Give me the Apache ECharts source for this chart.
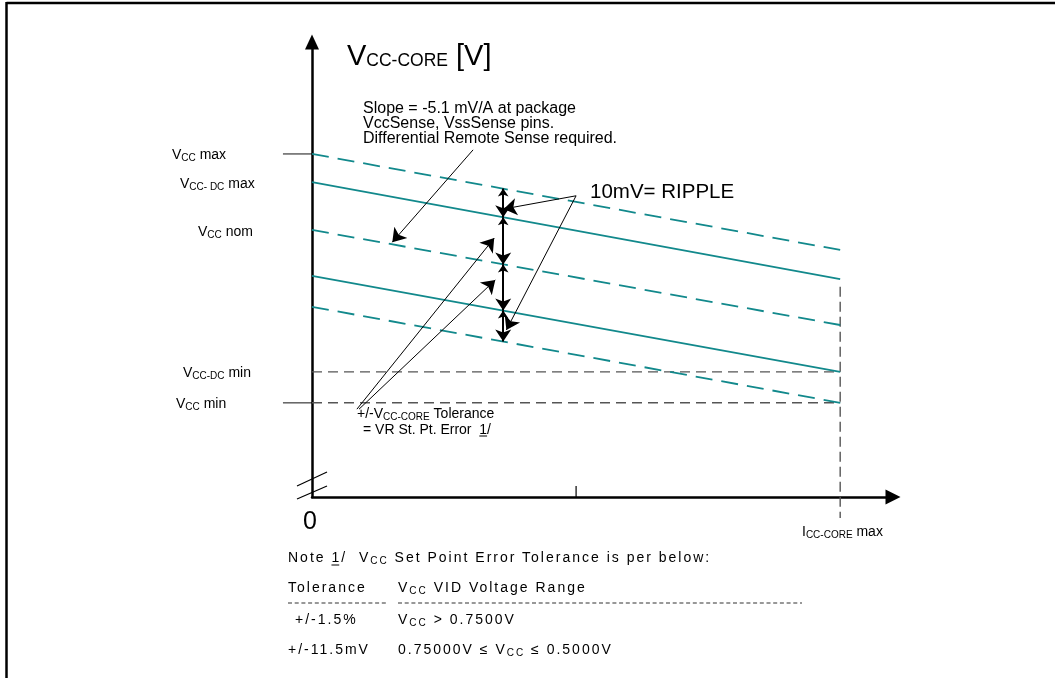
<!DOCTYPE html>
<html><head><meta charset="utf-8">
<script src="https://cdn.jsdelivr.net/npm/echarts@6/dist/echarts.min.js"></script>
<style>
html,body{margin:0;padding:0;background:#fff}
#main,#note{position:absolute;left:0;top:0;width:1055px;height:678px}
#note{letter-spacing:2px;pointer-events:none}
</style>
</head><body><div id="main"></div><div id="note"></div>
<script>
// ---------- data (relative units; x: 0 .. Icc-core max = 100) ----------
const loadX = [0, 100];
const vccMaxLine   = [75.4, 54.3];   // dashed
const vccDcMaxLine = [69.2, 47.9];   // solid
const vccNomLine   = [58.7, 37.8];   // dashed
const vccDcMinLine = [48.6, 27.5];   // solid
const vccMinLine   = [41.8, 20.7];   // dashed
const vccDcMinLevel = 27.5;
const vccMinLevel = 20.7;
const iccMaxX = 100;
const iccMaxSpan = [46.2, -4.6];
const midTickX = 50;
const rippleX = 36.2;
const rippleLevels = [67.8, 61.5, 51.1, 41.0, 34.2];
const axisTickLevels = [75.4, 20.7];
const tickStubX = [-5.5, 0];
const midTickSpan = [0, 2.4];
const breakMarks = [[[-2.84, 2.42], [2.84, 5.49]], [[-2.84, -0.44], [2.84, 2.42]]];
const pointerArrows = [
  [[30.5, 76.3], [15.2, 56.0]],   // slope note -> Vcc nom
  [[50.0, 66.2], [36.3, 63.3]],   // ripple -> top
  [[50.0, 66.2], [36.8, 36.7]],   // ripple -> bottom
  [[8.5, 19.3], [34.5, 56.9]],    // tolerance -> upper
  [[8.9, 19.3], [34.7, 47.7]]     // tolerance -> lower
];
const yLabels = [
  { v: 'V', s: 'CC', t: ' max' },
  { v: 'V', s: 'CC- DC', t: ' max' },
  { v: 'V', s: 'CC', t: ' nom' },
  { v: 'V', s: 'CC-DC', t: ' min' },
  { v: 'V', s: 'CC', t: ' min' }
];
const slopeNote = ['Slope = -5.1 mV/A at package', 'VccSense, VssSense pins.', 'Differential Remote Sense required.'];
const rippleNote = '10mV= RIPPLE';

const TEAL = '#12898c', GRAY = '#555';
const FONT = '"Liberation Sans", Arial, sans-serif';
const mctx = document.createElement('canvas').getContext('2d');
function measure(t, size, sp) { mctx.font = size + 'px ' + FONT; return mctx.measureText(t).width + (sp || 0) * t.length; }
function run(x, base, parts, sp, shift) {
  const els = []; let cx = x;
  parts.forEach(p => {
    const [t, size, dy] = p;
    els.push({ type: 'text', x: cx, y: base + (dy || 0) - 0.35 * size + (shift || 0), silent: true,
      style: { text: t, fontSize: size, fontFamily: FONT, fill: '#000', align: 'left', verticalAlign: 'middle' } });
    cx += measure(t, size, sp);
  });
  return els;
}
function hline(x1, y1, x2, y2, w, color, dash) {
  return { type: 'line', silent: true, shape: { x1, y1, x2, y2 }, style: { stroke: color || '#000', lineWidth: w || 1, lineDash: dash || null } };
}
function seg(pts, color, type, width, z) {
  return { type: 'line', data: pts, symbol: 'none', showSymbol: false, clip: false, silent: true, animation: false, z: z || 2,
    lineStyle: { color, width, type } };
}

const series = [
  seg([[loadX[0], vccMaxLine[0]], [loadX[1], vccMaxLine[1]]], TEAL, [17, 9], 1.8),
  seg([[loadX[0], vccDcMaxLine[0]], [loadX[1], vccDcMaxLine[1]]], TEAL, 'solid', 1.8),
  seg([[loadX[0], vccNomLine[0]], [loadX[1], vccNomLine[1]]], TEAL, [17, 9], 1.8),
  seg([[loadX[0], vccDcMinLine[0]], [loadX[1], vccDcMinLine[1]]], TEAL, 'solid', 1.8),
  seg([[loadX[0], vccMinLine[0]], [loadX[1], vccMinLine[1]]], TEAL, [17, 9], 1.8),
  seg([[loadX[0], vccDcMinLevel], [iccMaxX, vccDcMinLevel]], GRAY, [10, 6], 1.4, 1),
  seg([[loadX[0], vccMinLevel], [iccMaxX, vccMinLevel]], GRAY, [10, 6], 1.4, 1),
  seg([[iccMaxX, iccMaxSpan[0]], [iccMaxX, iccMaxSpan[1]]], GRAY, [10, 5], 1.4, 1),
  seg([[midTickX, midTickSpan[0]], [midTickX, midTickSpan[1]]], '#000', 'solid', 1.2),
  { type: 'lines', coordinateSystem: 'cartesian2d', silent: true, z: 5,
    symbol: ['none', 'arrow'], symbolSize: [7, 13],
    lineStyle: { color: '#000', width: 1, opacity: 1, curveness: 0 },
    data: pointerArrows.map(a => ({ coords: a })) },
  { type: 'lines', coordinateSystem: 'cartesian2d', silent: true, z: 6,
    symbol: ['arrow', 'arrow'], symbolSize: [8, 12],
    lineStyle: { color: '#000', width: 2, opacity: 1, curveness: 0 },
    data: rippleLevels.slice(0, -1).map((v, i) => ({ coords: [[rippleX, v], [rippleX, rippleLevels[i + 1]]] })) }
];

// ---------- text placement ----------
const SH = 2;
const yLabelPos = [[172, 158], [180, 187], [198, 235], [183, 376], [176, 407]];
let graphics = [];
graphics.push(hline(6.5, 3, 1055, 3, 2.5), hline(6.5, 2, 6.5, 678, 2.5));
graphics = graphics.concat(run(347, 65, [['V', 29], ['CC-CORE', 17.5], [' [V]', 29]], 0, SH));
slopeNote.forEach((t, i) => { graphics = graphics.concat(run(363, 112 + 15 * i, [[t, 16]], 0, SH)); });
graphics = graphics.concat(run(590, 198, [[rippleNote, 20.5]], 0, SH));
yLabels.forEach((l, i) => { graphics = graphics.concat(run(yLabelPos[i][0], yLabelPos[i][1], [[l.v, 14], [l.s, 10, 1.7], [l.t, 14]], 0, SH)); });
graphics = graphics.concat(run(357, 417, [['+/-V', 14], ['CC-CORE', 10, 1.7], [' Tolerance', 14]], 0, SH));
const tolLine2a = '= VR St. Pt. Error  ';
graphics = graphics.concat(run(363, 433, [[tolLine2a + '1/', 14]], 0, SH));
const ux = 363 + measure(tolLine2a, 14);
graphics.push(hline(ux, 436, ux + measure('1', 14), 436, 1));
graphics = graphics.concat(run(303, 529, [['0', 25]], 0, SH));
graphics = graphics.concat(run(802, 535, [['I', 14], ['CC-CORE', 10, 1.7], [' max', 14]], 0, SH));

const chart = echarts.init(document.getElementById('main'));
chart.setOption({
  animation: false,
  backgroundColor: '#fff',
  grid: { left: 312, top: 42, width: 581, height: 455 },
  xAxis: { type: 'value', min: 0, max: 110,
    axisLine: { show: true, onZero: false, symbol: ['none', 'triangle'], symbolSize: [15, 15], lineStyle: { color: '#000', width: 2.5 } },
    axisTick: { show: false }, axisLabel: { show: false }, splitLine: { show: false } },
  yAxis: { type: 'value', min: 0, max: 100,
    axisLine: { show: true, onZero: false, symbol: ['none', 'triangle'], symbolSize: [14, 15], lineStyle: { color: '#000', width: 2.5 } },
    axisTick: { show: false }, axisLabel: { show: false }, splitLine: { show: false } },
  series,
  graphic: graphics
});

// marks left of the value-axis origin, placed through the grid's own scales
const toPx = p => chart.convertToPixel({ gridIndex: 0 }, p);
const extra = [];
axisTickLevels.forEach(v => {
  const a = toPx([tickStubX[0], v]), b = toPx([tickStubX[1], v]);
  extra.push(hline(a[0], a[1], b[0], b[1], 1.4, GRAY));
});
breakMarks.forEach(m => {
  const a = toPx(m[0]), b = toPx(m[1]);
  extra.push(hline(a[0], a[1], b[0], b[1], 1.2, '#000'));
});
chart.setOption({ graphic: graphics.concat(extra) });

// ---------- note block (letter-spaced text) ----------
const SP = 2;
const noteRows = [
  { x: 288, b: 562, parts: [['Note ', 14], ['1/', 14], ['  V', 14], ['CC', 10, 1.7], [' Set Point Error Tolerance is per below:', 14]] },
  { x: 288, b: 592, parts: [['Tolerance', 14]] },
  { x: 398, b: 592, parts: [['V', 14], ['CC', 10, 1.7], [' VID Voltage Range', 14]] },
  { x: 295, b: 624, parts: [['+/-1.5%', 14]] },
  { x: 398, b: 624, parts: [['V', 14], ['CC', 10, 1.7], [' > 0.7500V', 14]] },
  { x: 288, b: 654, parts: [['+/-11.5mV', 14]] },
  { x: 398, b: 654, parts: [['0.75000V \u2264 V', 14], ['CC', 10, 1.7], [' \u2264 0.5000V', 14]] }
];
let ng = [];
noteRows.forEach(r => { ng = ng.concat(run(r.x, r.b, r.parts, SP)); });
const n1x = 288 + measure('Note ', 14, SP);
ng.push(hline(n1x, 565, n1x + measure('1', 14), 565, 1));
ng.push(hline(288, 603, 386, 603, 1.2, '#333', [4, 2.7]));
ng.push(hline(398, 603, 802, 603, 1.2, '#333', [4, 2.7]));
const note = echarts.init(document.getElementById('note'), null, { renderer: 'svg' });
note.setOption({ animation: false, graphic: ng });
</script>
</body></html>
